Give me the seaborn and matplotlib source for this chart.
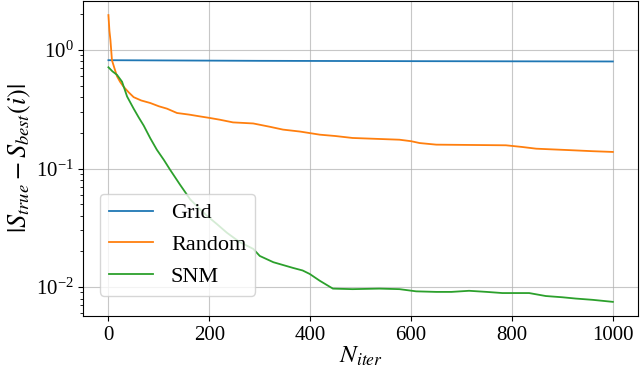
import numpy as np
import pandas as pd
import matplotlib
matplotlib.use("Agg")
import matplotlib.pyplot as plt
import seaborn as sns

# values (x = iteration, y = |S_true - S_best|)
grid_x = [0, 300, 600, 1000]
grid_y = [0.82, 0.81, 0.805, 0.80]

random_x = [0, 2, 4, 7, 12, 17, 23, 30, 40, 50, 65, 83, 100, 116, 136, 160, 182, 201,
            221, 247, 287, 320, 346, 380, 419, 450, 484, 530, 577, 600, 617, 650, 720,
            788, 820, 848, 880, 913, 960, 1000]
random_y = [1.97, 1.45, 1.21, 0.82, 0.70, 0.60, 0.54, 0.49, 0.44, 0.40, 0.375, 0.357,
            0.335, 0.32, 0.294, 0.285, 0.275, 0.267, 0.258, 0.245, 0.24, 0.225, 0.213,
            0.205, 0.193, 0.188, 0.181, 0.178, 0.175, 0.17, 0.164, 0.159, 0.158, 0.157,
            0.152, 0.147, 0.145, 0.143, 0.14, 0.138]

snm_x = [0, 8, 17, 27, 37, 50, 60, 70, 83, 96, 110, 122, 142, 162, 180, 195, 215, 235,
         260, 287, 300, 327, 366, 385, 399, 419, 445, 484, 537, 577, 610, 650, 680,
         715, 750, 781, 834, 867, 900, 926, 960, 1000]
snm_y = [0.715, 0.66, 0.617, 0.54, 0.405, 0.32, 0.27, 0.23, 0.18, 0.144, 0.118, 0.098,
         0.073, 0.055, 0.046, 0.040, 0.034, 0.0287, 0.024, 0.021, 0.0183, 0.0162,
         0.0145, 0.0138, 0.0129, 0.0113, 0.0097, 0.0096, 0.0097, 0.0096, 0.0092,
         0.0091, 0.0091, 0.0093, 0.0091, 0.0089, 0.0089, 0.0084, 0.0082, 0.0080,
         0.0078, 0.0075]

labels = ["Grid", "Random", "SNM"]

frames = []
for name, xs, ys in zip(labels, [grid_x, random_x, snm_x], [grid_y, random_y, snm_y]):
    frames.append(pd.DataFrame({"iter": xs, "err": ys, "method": name}))
df = pd.concat(frames, ignore_index=True)

plt.rcParams["font.family"] = ["Liberation Serif", "DejaVu Serif"]
plt.rcParams["mathtext.fontset"] = "stix"

fig, ax = plt.subplots(figsize=(6.4, 3.72), dpi=100)
sns.lineplot(data=df, x="iter", y="err", hue="method", hue_order=labels,
             palette=sns.color_palette("tab10", 3), lw=1.3, ax=ax, estimator=None)
ax.set_yscale("log")
ax.grid(True, which="major", color="#b0b0b0", lw=0.8, alpha=0.7)
ax.set_xticks([0, 200, 400, 600, 800, 1000])
ax.tick_params(labelsize=15)
ax.set_xlabel(r"$N_{iter}$", fontsize=18, labelpad=0)
ax.set_ylabel(r"$|S_{true} - S_{best}(i)|$", fontsize=19, labelpad=2)
ax.legend(loc="lower left", fontsize=16, bbox_to_anchor=(0.01, 0.03), title=None)

fig.subplots_adjust(left=0.13, right=0.997, top=0.998, bottom=0.15)
fig.savefig("out.png", dpi=100)
